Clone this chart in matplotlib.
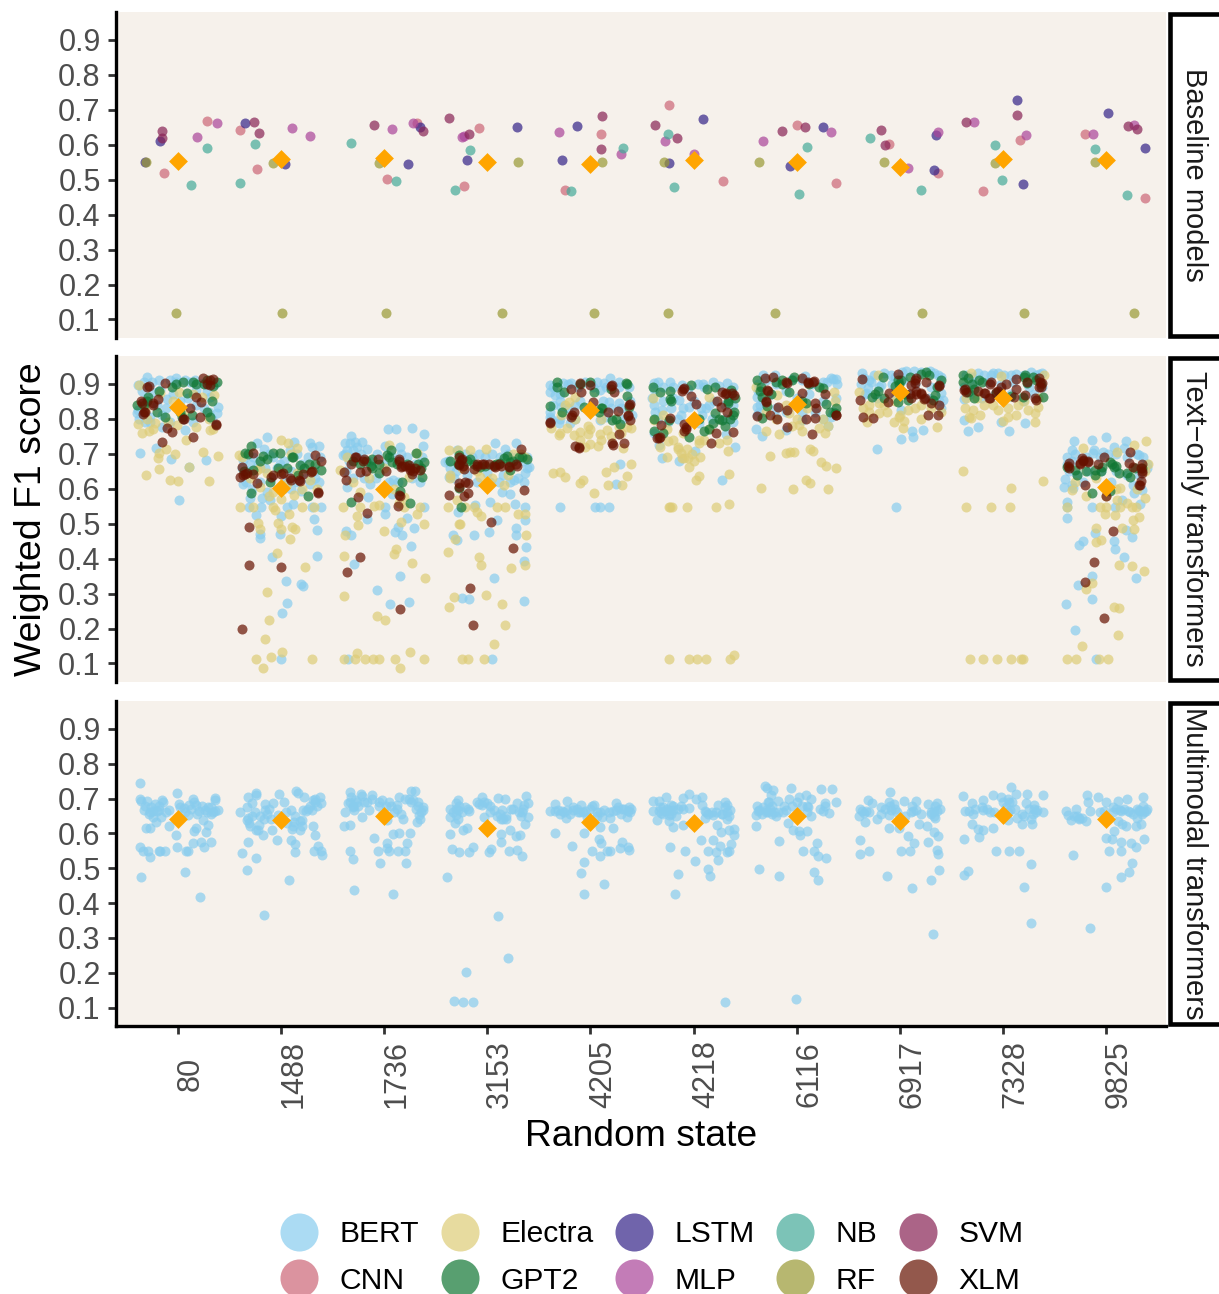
import matplotlib
matplotlib.use("Agg")
import matplotlib.pyplot as plt
from matplotlib.lines import Line2D
from matplotlib.patches import Rectangle
from matplotlib.transforms import ScaledTranslation

plt.rcParams['font.family'] = ['Liberation Sans', 'DejaVu Sans']

STATES = ["80", "1488", "1736", "3153", "4205", "4218", "6116", "6917", "7328", "9825"]
YTICKS = [0.1, 0.2, 0.3, 0.4, 0.5, 0.6, 0.7, 0.8, 0.9]
LEGEND_ORDER = ["BERT", "CNN", "Electra", "GPT2", "LSTM", "MLP", "NB", "RF", "SVM", "XLM"]
COLORS = {"BERT": "#88CCEE", "CNN": "#CC6677", "Electra": "#DDCC77", "GPT2": "#117733", "LSTM": "#332288",
          "MLP": "#AA4499", "NB": "#44AA99", "RF": "#999933", "SVM": "#882255", "XLM": "#661100"}
PANEL_TITLES = ["Baseline models", "Text\u2212only transformers", "Multimodal transformers"]

# every mark below is (jitter offset from the random state's slot, weighted F1), one inner list per random state
MEAN_BASE = [.553, .560, .561, .551, .544, .556, .550, .537, .559, .555]
MEAN_TEXT = [.835, .603, .600, .611, .825, .797, .843, .876, .860, .605]
MEAN_MULTI = [.640, .637, .651, .614, .634, .629, .649, .636, .654, .640]

BASE_CNN = [[(-.13,.519),(.28,.669)],[(-.40,.642),(-.23,.532)],[(.318,.663),(.03,.503)],[(-.085,.648),(-.223,.482)],
            [(.10,.631),(-.25,.470)],[(-.24,.715),(.285,.497)],[(0,.657),(.38,.491)],[(-.105,.603),(.37,.520)],
            [(.164,.614),(-.193,.468)],[(-.203,.631),(.377,.447)]]
BASE_LSTM = [[(-.32,.550),(-.17,.610)],[(-.354,.661),(.036,.546)],[(.348,.651),(.23,.545)],[(-.197,.555),(.29,.652)],
             [(-.13,.655),(-.272,.556)],[(.09,.675),(-.243,.547)],[(.256,.652),(-.07,.538)],[(.35,.627),(.334,.528)],
             [(.14,.729),(.19,.488)],[(.013,.690),(.374,.592)]]
BASE_MLP = [[(.19,.621),(.377,.663)],[(.108,.648),(.282,.625)],[(.08,.644),(.275,.662)],[(-.246,.623),(-.226,.626)],
            [(-.305,.637),(.292,.573)],[(-.28,.611),(0,.573)],[(-.33,.612),(.334,.636)],[(.367,.636),(.075,.533)],
            [(-.285,.666),(.223,.627)],[(-.128,.630),(.266,.657)]]
BASE_NB = [[(.13,.485),(.285,.591)],[(-.25,.602),(-.40,.491)],[(-.325,.605),(.115,.497)],[(-.17,.584),(-.31,.470)],
           [(-.187,.469),(.318,.591)],[(-.25,.631),(-.19,.479)],[(.10,.595),(.023,.459)],[(-.29,.619),(.20,.472)],
           [(-.075,.600),(-.013,.499)],[(-.11,.588),(.203,.456)]]
BASE_RF = [[(-.305,.550),(-.02,.118)],[(-.075,.549),(.007,.118)],[(-.046,.549),(.016,.118)],[(.30,.550),(.144,.118)],
           [(.11,.550),(.036,.118)],[(-.29,.550),(-.25,.118)],[(-.37,.550),(-.207,.118)],[(-.157,.550),(.21,.118)],
           [(-.08,.549),(.207,.118)],[(-.11,.550),(.27,.118)]]
BASE_SVM = [[(-.154,.640),(-.15,.619)],[(-.26,.664),(-.216,.635)],[(-.095,.656),(.38,.640)],[(-.37,.676),(-.174,.632)],
            [(.11,.683),(.10,.589)],[(-.377,.657),(-.164,.619)],[(-.144,.640),(.08,.650)],[(-.18,.643),(-.144,.599)],
            [(-.36,.666),(.14,.686)],[(.213,.653),(.30,.644)]]

TEXT_BERT = [
 [(-.385,.897),(-.304,.919),(-.255,.907),(-.184,.91),(-.078,.912),(-.023,.916),(.068,.912),(.165,.912),(.246,.902),(-.385,.825),(-.32,.792),(-.272,.806),(-.24,.878),(-.11,.856),(-.152,.778),(.068,.768),(.375,.816),(.39,.835),(.31,.864),(-.369,.703),(-.217,.718),(-.07,.685),(.272,.682),(.013,.567),(.107,.663),(-.337,.845),(-.40,.816),(-.175,.883),(.18,.883)],
 [(-.133,.749),(-.236,.73),(-.165,.715),(.123,.735),(.28,.732),(.372,.723),(.30,.72),(-.366,.682),(-.30,.672),(-.01,.672),(-.075,.691),(.087,.71),(.28,.615),(.37,.62),(-.366,.613),(.19,.594),(-.30,.575),(-.188,.575),(-.107,.567),(-.197,.548),(-.307,.548),(.12,.557),(.055,.548),(.385,.548),(.298,.548),(-.246,.524),(-.003,.521),(.32,.513),(.353,.483),(-.20,.471),(-.01,.471),(-.207,.46),(-.09,.405),(.346,.407),(.05,.337),(.194,.328),(.21,.321),(.06,.272),(.013,.245),(.003,.114)],
 [(-.324,.75),(-.217,.735),(.036,.77),(.117,.772),(.268,.775),(.388,.758),(.372,.722),(-.36,.71),(-.395,.696),(-.265,.72),(-.168,.715),(.01,.722),(.15,.72),(-.362,.605),(-.136,.615),(-.152,.577),(.09,.624),(.074,.586),(.01,.548),(.382,.548),(.01,.527),(-.168,.514),(.22,.517),(.285,.489),(.13,.491),(.107,.476),(.17,.468),(-.37,.479),(-.32,.467),(.257,.435),(-.288,.384),(.158,.351),(-.068,.31),(.055,.27),(.24,.277),(-.35,.114),(-.30,.69)],
 [(-.295,.711),(.07,.73),(.278,.73),(.175,.713),(.385,.691),(-.408,.677),(-.375,.634),(.40,.661),(.37,.644),(0,.644),(.11,.62),(.256,.624),(.142,.591),(.223,.584),(.03,.562),(.272,.556),(.369,.548),(-.116,.553),(-.285,.533),(.094,.512),(.362,.512),(.28,.489),(.013,.475),(.278,.468),(-.126,.468),(-.333,.467),(-.295,.452),(.372,.433),(.36,.393),(.068,.344),(-.246,.287),(-.18,.284),(.353,.28),(.042,.114)],
 [(-.388,.897),(-.388,.878),(-.34,.868),(-.269,.902),(-.185,.904),(.065,.907),(.13,.904),(.194,.916),(.275,.892),(.097,.883),(-.388,.821),(-.388,.806),(-.29,.835),(-.152,.84),(.178,.847),(.275,.845),(.4,.811),(-.307,.787),(-.194,.787),(.097,.797),(-.30,.547),(.042,.547),(.09,.547),(.184,.547),(.285,.672),(.249,.613)],
 [(-.385,.902),(-.343,.907),(-.233,.907),(-.11,.897),(.042,.90),(.094,.899),(.19,.907),(.324,.902),(-.142,.854),(-.045,.835),(.117,.83),(.149,.84),(-.375,.821),(-.304,.825),(-.22,.83),(-.126,.811),(.084,.811),(.052,.787),(.31,.758),(.40,.72),(-.336,.725),(-.304,.687),(-.142,.68),(.013,.708),(.278,.624),(-.40,.859),(.343,.859)],
 [(-.324,.926),(-.21,.926),(.08,.923),(.33,.916),(.379,.913),(.298,.907),(-.382,.864),(-.382,.835),(-.366,.821),(-.398,.77),(-.336,.751),(-.107,.768),(.25,.799),(.307,.78),(.33,.806),(-.204,.806),(.055,.797)],
 [(-.346,.916),(-.282,.907),(-.087,.926),(.058,.936),(.139,.936),(.291,.938),(.366,.926),(-.314,.888),(-.33,.873),(.398,.873),(.414,.854),(.01,.825),(.117,.765),(.226,.767),(.126,.748),(.013,.743),(-.223,.715),(-.036,.547),(.398,.83),(-.184,.897)],
 [(-.246,.93),(-.1,.93),(.126,.929),(.272,.933),(.353,.929),(-.375,.856),(-.38,.797),(-.343,.766),(-.24,.778),(-.02,.79),(.055,.766),(.217,.788),(.197,.85),(-.18,.926),(.013,.926)],
 [(-.31,.736),(-.142,.741),(0,.747),(.188,.736),(-.333,.711),(.071,.72),(.168,.718),(.314,.696),(.395,.672),(-.38,.672),(-.398,.629),(-.405,.605),(-.324,.603),(-.382,.562),(-.382,.547),(-.375,.515),(-.142,.547),(.09,.547),(.152,.569),(.33,.555),(.272,.589),(.346,.596),(-.104,.474),(.194,.481),(.25,.462),(-.227,.45),(-.26,.438),(.071,.451),(.081,.428),(.175,.404),(.285,.345),(-.14,.35),(-.272,.325),(-.136,.285),(-.385,.27),(-.298,.197),(-.097,.114),(-.123,.701),(-.026,.706)],
]
TEXT_BERT_DENSE = [
 [(-.35,.88),(-.30,.86),(-.2,.84),(-.12,.83),(-.05,.87),(.02,.85),(.1,.86),(.18,.84),(.25,.83),(.33,.80),(.28,.88),(-.38,.80),(-.27,.79),(-.15,.81),(-.08,.79),(.05,.80),(.15,.79),(.3,.82),(-.02,.905),(.12,.905),(.36,.90),(-.33,.905)],
 [(-.38,.66),(-.33,.65),(-.27,.69),(-.22,.67),(-.16,.66),(-.12,.70),(-.04,.66),(.03,.68),(.1,.65),(.15,.70),(.2,.67),(.26,.69),(.32,.65),(.38,.69),(-.34,.62),(-.2,.62),(-.1,.63),(.05,.62),(.15,.62),(.24,.63),(.33,.63),(-.28,.60),(-.14,.59),(.02,.60),(.1,.60)],
 [(-.38,.70),(-.34,.68),(-.3,.71),(-.26,.69),(-.22,.70),(-.14,.68),(-.07,.70),(0,.67),(.08,.69),(.16,.70),(.22,.69),(.3,.67),(.37,.69),(-.37,.65),(-.3,.63),(-.2,.63),(-.08,.63),(.05,.62),(.13,.62),(.27,.63),(.35,.62),(-.38,.73),(-.33,.73),(-.28,.735)],
 [(-.38,.68),(-.36,.66),(-.3,.65),(-.22,.70),(-.15,.69),(-.08,.70),(-.02,.69),(.05,.70),(.12,.69),(.2,.70),(.28,.69),(.35,.68),(.38,.66),(-.32,.63),(-.2,.64),(-.1,.62),(.03,.62),(.15,.64),(.22,.62),(.3,.63),(.36,.62)],
 [(-.36,.89),(-.3,.87),(-.22,.90),(-.12,.89),(-.05,.905),(.02,.89),(.15,.89),(.28,.905),(.37,.89),(-.36,.84),(-.3,.85),(-.22,.83),(-.1,.85),(0,.83),(.12,.85),(.2,.83),(.3,.83),(.38,.85),(-.38,.80),(-.3,.80),(-.15,.80),(.15,.805),(.33,.80)],
 [(-.38,.885),(-.3,.89),(-.2,.89),(-.05,.885),(.1,.89),(.25,.895),(.38,.89),(-.38,.84),(-.3,.85),(-.2,.86),(-.1,.83),(0,.85),(.07,.83),(.2,.85),(.3,.84),(.38,.84),(-.35,.80),(-.25,.79),(-.15,.80),(0,.80),(.18,.80),(.3,.80),(.38,.79),(-.38,.76)],
 [(-.38,.90),(-.3,.91),(-.2,.90),(-.05,.915),(.05,.91),(.15,.90),(.25,.905),(.35,.915),(.39,.90),(-.38,.88),(-.33,.85),(-.25,.87),(-.1,.88),(0,.86),(.12,.87),(.25,.85),(.38,.86),(-.36,.84),(-.2,.83),(-.1,.82),(.05,.82),(.18,.82),(.35,.82),(-.39,.81)],
 [(-.37,.93),(-.25,.925),(-.15,.93),(-.05,.92),(.02,.935),(.2,.935),(.33,.93),(.4,.92),(-.38,.90),(-.3,.91),(-.2,.89),(-.08,.90),(.03,.91),(.15,.90),(.3,.89),(.39,.90),(-.34,.87),(-.22,.86),(-.05,.86),(.1,.87),(.28,.86),(.38,.85)],
 [(-.36,.925),(-.3,.92),(-.12,.925),(-.05,.93),(.08,.925),(.2,.925),(.32,.925),(.38,.93),(-.38,.89),(-.28,.90),(-.15,.905),(-.02,.90),(.1,.905),(.25,.89),(.38,.89),(-.32,.87),(-.2,.86),(-.08,.87),(.08,.87),(.2,.86),(.3,.87)],
 [(-.38,.69),(-.33,.68),(-.3,.70),(-.2,.69),(-.12,.71),(-.06,.69),(.02,.70),(.1,.70),(.2,.69),(.3,.70),(.36,.69),(.4,.66),(-.36,.65),(-.28,.64),(-.18,.65),(-.05,.65),(.1,.65),(.2,.64),(.32,.64),(-.33,.61),(-.22,.62),(.05,.62),(.26,.61)],
]
TEXT_ELECTRA = [
 [(-.375,.897),(-.39,.785),(-.346,.761),(-.278,.766),(-.24,.77),(-.175,.873),(.01,.878),(.353,.869),(.23,.862),(.18,.778),(.31,.768),(.336,.771),(.074,.739),(-.12,.715),(-.184,.701),(-.188,.687),(-.03,.699),(.24,.705),(.385,.693),(-.18,.658),(.11,.663),(-.31,.638),(-.074,.626),(0,.621),(.304,.623),(-.223,.787),(-.013,.782),(-.32,.825)],
 [(-.405,.696),(0,.739),(.07,.73),(.152,.718),(-.236,.653),(-.204,.605),(-.074,.591),(.13,.581),(-.398,.548),(-.27,.548),(-.08,.548),(.207,.548),(.32,.548),(-.058,.538),(.08,.529),(-.22,.502),(-.026,.503),(-.204,.486),(0,.486),(.107,.492),(.136,.486),(.09,.457),(-.036,.415),(.236,.375),(-.133,.304),(-.12,.224),(-.155,.17),(-.243,.114),(-.097,.118),(.006,.132),(.304,.114),(-.17,.088),(.152,.644),(.28,.624),(-.14,.644),(.055,.615)],
 [(-.395,.548),(-.233,.548),(-.055,.553),(.188,.548),(.35,.548),(.317,.529),(-.265,.522),(-.256,.497),(-.375,.469),(-.006,.478),(.39,.50),(.165,.506),(.117,.428),(.10,.412),(.265,.389),(-.385,.407),(.398,.345),(-.39,.292),(-.065,.236),(.01,.225),(-.385,.114),(-.28,.114),(-.26,.129),(-.184,.114),(-.104,.114),(-.052,.114),(.104,.114),(.246,.134),(.385,.114),(.15,.087),(-.233,.591),(.24,.634),(.188,.577),(-.427,.653),(.317,.701),(.042,.725)],
 [(-.375,.711),(-.165,.711),(-.01,.714),(.369,.691),(-.36,.639),(-.379,.547),(-.295,.567),(-.214,.548),(-.133,.548),(-.1,.533),(-.06,.521),(.094,.547),(.175,.547),(.295,.527),(.369,.529),(-.278,.50),(-.262,.498),(.379,.468),(-.31,.455),(-.385,.418),(-.08,.406),(-.058,.381),(.233,.372),(.362,.383),(-.013,.296),(-.324,.291),(.139,.27),(-.372,.262),(.168,.21),(.065,.156),(-.243,.114),(-.19,.114),(-.036,.114),(.159,.61),(-.068,.634)],
 [(-.21,.847),(-.29,.811),(-.378,.773),(-.307,.754),(-.226,.773),(-.162,.754),(-.097,.763),(-.097,.739),(-.026,.78),(-.023,.757),(.09,.757),(.103,.739),(.16,.768),(.073,.723),(0,.728),(.32,.718),(.275,.778),(.393,.773),(-.367,.646),(-.291,.649),(-.25,.633),(-.097,.617),(-.071,.624),(.036,.589),(.146,.647),(.227,.663),(.39,.67),(.356,.637),(.168,.611),(.307,.612),(-.146,.864),(.356,.778)],
 [(-.395,.859),(.149,.864),(-.38,.797),(-.262,.77),(-.246,.737),(-.324,.72),(-.156,.713),(-.124,.701),(-.06,.715),(-.11,.687),(-.05,.687),(-.256,.69),(.058,.69),(-.04,.661),(.052,.739),(.1,.739),(.337,.709),(.327,.741),(.055,.637),(.02,.624),(.346,.642),(-.23,.547),(-.24,.547),(-.213,.547),(-.06,.547),(.22,.547),(.34,.555),(-.24,.114),(-.042,.114),(.032,.114),(.12,.114),(.356,.114),(.39,.125),(-.094,.687)],
 [(-.398,.892),(-.188,.868),(.362,.878),(.369,.85),(-.30,.766),(-.172,.758),(.023,.782),(.055,.766),(.217,.773),(.272,.761),(-.074,.816),(-.262,.693),(-.1,.703),(-.068,.705),(-.023,.705),(.133,.715),(.158,.708),(.233,.677),(.282,.666),(.385,.66),(-.343,.603),(-.04,.60),(.094,.624),(.13,.617),(.30,.60)],
 [(-.217,.926),(-.395,.878),(-.362,.83),(-.298,.84),(-.2,.845),(-.126,.821),(.074,.825),(-.32,.792),(-.2,.816),(-.055,.792),(-.006,.806),(.042,.795),(.032,.774),(.362,.778),(.204,.84),(.398,.821)],
 [(-.314,.93),(-.02,.923),(.40,.926),(-.369,.83),(-.295,.825),(-.33,.804),(-.314,.802),(-.22,.811),(-.18,.84),(-.052,.825),(-.003,.795),(.045,.806),(.126,.811),(.24,.825),(.314,.816),(.307,.791),(.337,.835),(.142,.84),(-.385,.65),(.08,.602),(.39,.621),(-.362,.547),(-.117,.547),(.068,.547),(-.324,.114),(-.194,.114),(-.055,.114),(.078,.114),(.175,.114),(.19,.114)],
 [(-.22,.718),(.104,.706),(.269,.724),(.385,.736),(.405,.67),(-.333,.596),(.136,.602),(.104,.567),(.372,.575),(-.058,.547),(0,.547),(.13,.547),(.25,.547),(.29,.547),(-.01,.529),(.09,.526),(.314,.519),(.26,.512),(-.097,.488),(.152,.488),(.265,.486),(-.097,.447),(-.052,.452),(.12,.381),(.252,.38),(.366,.365),(-.136,.33),(-.194,.313),(.078,.261),(.123,.259),(.11,.182),(-.23,.15),(-.379,.114),(-.29,.114),(-.065,.114),(.013,.114),(-.382,.547)],
]
TEXT_ELECTRA_DENSE = [
 [(-.3,.80),(-.1,.79),(.05,.82),(.15,.87),(.3,.80),(-.05,.85)],
 [(-.38,.69),(-.3,.63),(-.2,.66),(-.02,.65),(.1,.70),(.3,.65),(.35,.60),(-.12,.58),(0,.57),(.2,.60)],
 [(-.36,.69),(-.3,.62),(-.15,.63),(0,.66),(.1,.60),(.3,.66),(-.1,.55),(.14,.56)],
 [(-.36,.63),(-.25,.66),(-.1,.65),(.05,.63),(.2,.64),(.33,.70),(-.28,.71),(.25,.70)],
 [(-.3,.76),(-.15,.80),(0,.77),(.1,.80),(.3,.76),(-.25,.84),(.2,.75),(-.05,.72)],
 [(-.2,.74),(-.1,.76),(.05,.73),(.25,.73),(-.3,.81),(.15,.77),(-.15,.72),(-.02,.70),(0,.68)],
 [(-.2,.80),(-.1,.84),(.1,.83),(.25,.80),(-.3,.82),(.3,.78),(0,.80),(-.05,.78)],
 [(-.3,.82),(-.15,.84),(0,.81),(.2,.80),(.3,.83),(.15,.83),(-.05,.85)],
 [(-.25,.86),(-.1,.84),(.05,.83),(.2,.85),(.34,.86),(-.36,.86)],
 [(-.3,.62),(-.1,.63),(.1,.60),(.3,.60),(.38,.65),(-.2,.58),(0,.58),(.2,.56)],
]
TEXT_GPT2 = [
 [(-.06,.892),(.045,.906),(.175,.90),(.38,.906),(.34,.894),(-.288,.862),(-.395,.84),(-.207,.821),(-.126,.804),(.09,.875),(.333,.85),(.278,.821),(.31,.806),(.036,.806),(.133,.811)],
 [(-.29,.722),(-.35,.702),(-.178,.693),(-.14,.685),(-.08,.703),(-.006,.702),(.12,.691),(.185,.668),(.27,.67),(.385,.655),(.055,.659),(-.275,.655),(-.107,.62),(-.288,.589),(.265,.578)],
 [(-.12,.684),(.026,.696),(.068,.711),(.31,.701),(.382,.677),(.366,.634),(.17,.62),(.155,.594),(.246,.56),(-.324,.562),(-.13,.665),(.074,.677),(-.055,.644),(-.233,.672),(.33,.672)],
 [(-.36,.679),(-.272,.698),(-.17,.685),(-.068,.663),(.159,.689),(.223,.677),(.304,.691),(.385,.684),(.223,.653),(-.272,.603),(-.256,.547),(.06,.668),(-.133,.672)],
 [(-.324,.892),(-.256,.878),(.032,.878),(.34,.904),(.356,.866),(.372,.835),(-.388,.838),(-.065,.835),(.113,.83),(.08,.821),(.21,.797),(.29,.784)],
 [(-.39,.892),(-.33,.878),(-.224,.881),(-.233,.858),(-.03,.896),(.13,.885),(.207,.892),(.363,.883),(.40,.859),(.337,.846),(.207,.816),(.35,.801),(.272,.797),(.188,.787),(.304,.78),(.10,.766),(-.04,.749),(-.385,.765),(-.24,.797),(.39,.821)],
 [(-.388,.91),(-.146,.912),(-.026,.919),(-.35,.89),(-.34,.864),(-.29,.837),(-.074,.876),(-.14,.90),(.25,.888),(.087,.845),(.285,.843),(.379,.832),(.369,.818),(-.34,.802)],
 [(-.162,.921),(-.023,.91),(-.006,.90),(.204,.929),(.252,.933),(.398,.91),(-.217,.881),(-.275,.864),(.074,.854),(.34,.868),(-.023,.849),(.01,.912)],
 [(-.39,.926),(-.336,.916),(-.23,.91),(-.39,.907),(-.278,.859),(-.068,.873),(.217,.926),(.288,.921),(.233,.904),(.39,.862),(.19,.864),(-.343,.878)],
 [(-.382,.663),(-.285,.639),(-.107,.653),(-.107,.639),(.039,.677),(.071,.663),(.12,.644),(.233,.634),(-.133,.589),(.039,.594),(-.042,.663)],
]
TEXT_GPT2_DENSE = [
 [(-.33,.84),(-.18,.88),(-.02,.90),(.15,.905),(.25,.90),(.28,.91),(-.3,.85),(.02,.82)],
 [(-.32,.70),(-.2,.68),(-.03,.66),(.11,.69),(.22,.66),(.33,.67),(-.36,.65),(.16,.64)],
 [(-.3,.68),(-.18,.68),(-.05,.67),(.05,.69),(.12,.67),(.22,.67),(.36,.66),(-.12,.66)],
 [(-.28,.67),(-.2,.68),(-.02,.665),(.08,.67),(.19,.695),(.25,.68),(.34,.69),(.12,.675)],
 [(-.32,.905),(-.1,.90),(0,.905),(.2,.885),(-.28,.82),(.25,.80),(.35,.90),(.1,.83)],
 [(-.38,.80),(-.22,.85),(.05,.80),(.25,.80),(.33,.85),(.38,.81),(-.3,.76),(.15,.77)],
 [(-.2,.905),(-.05,.91),(.12,.90),(.22,.89),(-.25,.87),(.05,.85),(.32,.82),(-.36,.88)],
 [(-.05,.895),(.1,.92),(.28,.925),(.36,.89),(-.15,.86),(-.24,.87),(.05,.87),(.32,.855)],
 [(-.3,.90),(-.2,.905),(-.28,.885),(.2,.92),(.32,.91),(.37,.90),(-.02,.87),(.08,.865)],
 [(-.3,.655),(-.2,.65),(-.05,.65),(.06,.67),(.1,.665),(.2,.645),(.28,.66),(.35,.66)],
]
TEXT_XLM = [
 [(-.278,.894),(.24,.916),(.31,.91),(.31,.897),(-.126,.902),(-.36,.85),(-.246,.846),(-.19,.857),(-.33,.821),(-.337,.814),(-.104,.775),(-.058,.763),(-.152,.735),(.149,.747),(.369,.782),(.052,.799),(.117,.83),(.214,.806),(.172,.862),(.22,.847)],
 [(-.275,.703),(-.375,.661),(-.40,.634),(-.35,.642),(-.275,.641),(-.23,.617),(-.097,.634),(0,.641),(.087,.630),(.185,.621),(.21,.642),(.288,.648),(.327,.696),(.388,.68),(.356,.589),(-.307,.49),(-.314,.381),(0,.377),(-.379,.20)],
 [(-.278,.69),(-.2,.686),(-.06,.684),(.14,.684),(.162,.663),(.24,.668),(.25,.653),(.27,.642),(.35,.653),(-.385,.648),(-.366,.624),(-.324,.67),(-.233,.648),(-.175,.651),(.016,.651),(-.256,.577),(.146,.583),(.133,.552),(-.168,.531),(-.23,.404),(-.362,.363),(.152,.257)],
 [(-.27,.691),(-.256,.682),(-.278,.668),(-.23,.658),(-.133,.658),(-.1,.672),(-.052,.672),(.013,.67),(.078,.663),(.11,.67),(.207,.663),(.288,.665),(.327,.713),(-.278,.617),(-.19,.617),(-.37,.581),(-.19,.588),(-.23,.579),(.36,.597),(.032,.506),(.25,.431),(-.165,.315),(-.14,.211)],
 [(-.097,.902),(0,.897),(-.188,.885),(-.087,.878),(.204,.896),(.226,.876),(.023,.849),(-.162,.821),(-.188,.806),(.17,.819),(.269,.823),(.379,.843),(.366,.808),(.388,.797),(-.388,.787),(.275,.757),(-.146,.722),(-.113,.717),(.217,.726),(.324,.732)],
 [(-.117,.88),(-.094,.888),(-.03,.866),(.026,.843),(.23,.852),(.272,.876),(.31,.873),(.39,.868),(.269,.835),(.324,.821),(.385,.762),(.217,.76),(-.233,.803),(-.317,.782),(-.07,.778),(-.094,.765),(-.33,.749),(-.353,.744),(.168,.73)],
 [(-.307,.916),(-.227,.919),(-.097,.904),(.055,.916),(.113,.902),(.168,.909),(-.285,.883),(-.30,.847),(.275,.87),(.052,.873),(-.18,.835),(-.097,.825),(.178,.845),(.191,.83),(.379,.811),(-.382,.808),(-.262,.811),(-.194,.799),(.087,.80),(.178,.802),(-.094,.778),(.146,.757)],
 [(-.366,.913),(-.016,.928),(.155,.916),(.149,.904),(.256,.907),(.382,.897),(.107,.897),(-.11,.875),(-.113,.849),(-.382,.855),(.155,.87),(.204,.875),(.23,.856),(.107,.859),(.30,.845),(.382,.84),(-.356,.806),(-.256,.802),(.269,.81),(.372,.81)],
 [(-.375,.883),(-.36,.878),(-.123,.90),(.03,.90),(.13,.913),(.23,.907),(.346,.916),(.375,.904),(.353,.89),(-.24,.881),(-.18,.873),(-.14,.859),(-.068,.878),(.11,.862),(.13,.885),(.217,.867),(.314,.859),(-.02,.892)],
 [(.23,.704),(-.36,.674),(-.36,.66),(-.252,.672),(-.23,.687),(-.178,.677),(-.084,.672),(-.02,.69),(.217,.674),(.26,.661),(.346,.671),(.346,.65),(.337,.623),(.317,.611),(-.207,.612),(0,.579),(.065,.48),(-.117,.39),(-.204,.333),(-.02,.229),(-.22,.682)],
]
TEXT_XLM_DENSE = [
 [(-.3,.89),(-.32,.82),(.28,.90),(-.24,.84),(.34,.915),(-.35,.845),(.37,.785),(.06,.80)],
 [(-.37,.64),(-.33,.645),(-.08,.64),(.02,.645),(.1,.625),(.17,.625),(.3,.65),(.355,.59)],
 [(.14,.68),(.25,.66),(.28,.65),(.3,.66),(-.27,.69),(-.21,.68),(.17,.665),(.2,.665),(.15,.58)],
 [(-.27,.67),(-.25,.685),(-.24,.665),(-.1,.665),(-.03,.67),(.06,.665),(.13,.665),(.21,.665),(.28,.67),(-.27,.605),(-.22,.62)],
 [(-.18,.81),(-.11,.72),(.21,.73),(.2,.895),(.36,.81),(-.39,.79),(.37,.84)],
 [(-.1,.885),(.3,.87),(.375,.875),(-.09,.785),(-.34,.745),(-.07,.77)],
 [(.11,.905),(.16,.905),(-.28,.88),(-.3,.85),(.38,.81),(-.1,.905)],
 [(.15,.91),(.16,.88),(.2,.87),(.24,.86),(.38,.895),(.1,.87)],
 [(-.37,.885),(-.12,.905),(.36,.905),(.37,.89),(-.17,.875),(-.13,.86),(.32,.855),(-.05,.88)],
 [(-.25,.675),(-.22,.68),(-.18,.68),(.34,.66),(.345,.645),(-.37,.665),(.33,.61)],
]

MULTI_BERT = [
 [(-.37,.745),(-.37,.700),(-.36,.693),(-.30,.693),(-.15,.697),(-.144,.690),(-.013,.717),(.148,.700),(.36,.702),(.36,.695),(-.22,.684),(-.33,.667),(-.266,.662),(-.24,.647),(-.216,.633),(-.167,.646),(-.085,.667),(-.18,.667),(.01,.684),(.06,.674),(.11,.681),(.177,.681),(.184,.657),(.243,.638),(.29,.676),(.26,.667),(.34,.662),(.39,.667),(.32,.657),(.095,.652),(.29,.625),(-.305,.615),(-.266,.614),(-.089,.621),(.275,.605),(.154,.608),(.177,.615),(-.016,.595),(-.37,.560),(-.338,.548),(-.29,.549),(-.27,.532),(-.184,.548),(-.174,.549),(-.128,.548),(-.007,.56),(.075,.548),(.10,.548),(.148,.572),(.223,.576),(.256,.562),(.32,.575),(-.36,.475),(.066,.49),(.21,.416)],
 [(-.246,.716),(-.24,.71),(-.318,.705),(-.016,.713),(.144,.722),(.16,.716),(.223,.705),(.374,.705),(.31,.697),(.33,.69),(.39,.686),(-.285,.686),(-.33,.676),(-.393,.662),(-.256,.66),(-.154,.684),(-.08,.686),(.03,.69),(-.154,.667),(-.32,.643),(-.33,.638),(-.31,.63),(-.216,.624),(-.167,.64),(-.243,.61),(-.085,.611),(-.174,.595),(-.026,.652),(.10,.667),(.216,.667),(.30,.667),(.26,.671),(.2,.638),(.128,.633),(.187,.609),(.11,.612),(.31,.622),(.325,.595),(-.043,.582),(.095,.582),(-.325,.574),(-.38,.545),(-.246,.529),(.138,.569),(.14,.547),(.318,.548),(.354,.563),(.39,.549),(.397,.538),(-.33,.494),(.082,.465),(-.167,.367)],
 [(-.334,.719),(-.223,.714),(-.118,.711),(-.216,.707),(.26,.722),(.30,.722),(.144,.705),(.243,.70),(-.02,.697),(-.33,.69),(-.348,.686),(-.28,.695),(-.167,.69),(-.052,.69),(.046,.69),(.128,.681),(.26,.69),(.325,.69),(.374,.676),(.374,.667),(.34,.652),(-.38,.662),(-.29,.667),(-.144,.667),(-.216,.646),(-.02,.652),(.16,.657),(.187,.64),(.315,.634),(.03,.638),(-.393,.621),(-.33,.624),(.085,.598),(.148,.60),(.25,.60),(-.095,.587),(.023,.572),(.22,.573),(-.33,.548),(-.30,.527),(-.062,.548),(.03,.557),(.05,.548),(.138,.548),(.2,.548),(-.04,.514),(.216,.516),(-.295,.438),(.089,.426)],
 [(-.285,.697),(-.30,.686),(-.052,.705),(-.10,.69),(.105,.702),(.17,.699),(.377,.708),(.39,.686),(.29,.686),(.357,.681),(-.364,.67),(-.28,.667),(-.216,.676),(-.184,.671),(-.052,.681),(0,.686),(.062,.667),(.144,.667),(.226,.671),(-.364,.647),(-.30,.652),(-.315,.63),(-.036,.647),(.128,.64),(.184,.642),(.34,.662),(.39,.647),(.367,.628),(-.24,.611),(-.193,.614),(-.364,.598),(.128,.598),(.216,.611),(.275,.593),(.315,.594),(.131,.576),(-.347,.555),(-.272,.547),(-.177,.547),(-.134,.56),(.013,.547),(.036,.554),(.21,.548),(.29,.553),(.334,.535),(-.387,.474),(.10,.363),(.203,.241),(-.207,.202),(-.32,.12),(-.233,.115),(-.138,.115)],
 [(-.344,.683),(-.226,.694),(-.397,.664),(-.315,.667),(-.233,.643),(-.226,.667),(-.167,.676),(-.095,.681),(-.118,.662),(.013,.679),(.036,.681),(-.036,.647),(.128,.667),(.11,.647),(.193,.643),(.252,.686),(.25,.667),(.31,.671),(.374,.676),(.357,.647),(.39,.669),(-.167,.667),(-.069,.662),(.062,.662),(-.344,.60),(-.059,.602),(.095,.619),(.22,.615),(.079,.584),(.10,.573),(-.177,.563),(.013,.548),(.092,.534),(.16,.549),(.193,.548),(.282,.559),(.31,.574),(.367,.561),(.377,.551),(-.066,.518),(-.092,.486),(.13,.454),(-.059,.426)],
 [(-.39,.693),(-.334,.693),(-.266,.703),(-.10,.702),(-.04,.713),(.082,.705),(.026,.70),(-.39,.664),(-.30,.676),(-.318,.659),(-.22,.681),(-.203,.667),(-.105,.671),(-.04,.674),(-.357,.638),(-.236,.652),(-.236,.636),(-.17,.649),(.085,.681),(.125,.662),(.19,.652),(.30,.69),(.328,.681),(.24,.681),(.354,.667),(.272,.657),(.32,.64),(.108,.643),(.23,.625),(-.10,.625),(-.197,.617),(.262,.603),(.344,.611),(.387,.612),(.393,.595),(.075,.58),(.19,.582),(.36,.569),(.256,.564),(-.226,.561),(-.082,.548),(.138,.548),(.22,.547),(.328,.547),(.344,.55),(.233,.523),(.013,.521),(.141,.497),(.157,.479),(-.154,.482),(-.177,.427),(.30,.115)],
 [(-.31,.735),(-.285,.729),(-.226,.724),(-.056,.73),(.233,.727),(.338,.727),(-.252,.71),(-.27,.69),(-.384,.678),(-.393,.652),(-.367,.667),(-.30,.667),(-.236,.657),(-.203,.649),(-.177,.693),(-.072,.70),(.026,.703),(.092,.71),(.14,.70),(-.105,.668),(.108,.676),(.134,.65),(.223,.671),(.272,.688),(.377,.69),(.315,.659),(-.393,.622),(-.089,.631),(-.04,.609),(.033,.595),(.098,.608),(.026,.607),(-.17,.579),(.197,.571),(.06,.548),(.165,.548),(.21,.535),(.28,.53),(-.367,.499),(-.17,.479),(.172,.488),(.206,.465),(-.01,.125)],
 [(-.10,.719),(-.39,.671),(-.305,.697),(-.275,.686),(-.40,.649),(-.35,.659),(-.334,.633),(-.22,.64),(-.18,.676),(-.11,.689),(-.089,.667),(-.105,.652),(.036,.692),(.157,.693),(.108,.662),(.157,.668),(.272,.683),(.364,.688),(.387,.669),(.305,.657),(.338,.643),(.19,.628),(.262,.622),(-.105,.615),(-.007,.614),(.079,.593),(.33,.603),(.374,.592),(.14,.573),(.275,.575),(-.384,.582),(-.384,.541),(-.295,.548),(.01,.548),(.095,.548),(.364,.552),(.374,.541),(.377,.496),(.30,.465),(-.128,.479),(.118,.442),(.318,.31)],
 [(-.387,.708),(-.098,.71),(.079,.732),(.121,.712),(.236,.712),(.384,.709),(-.305,.686),(-.19,.697),(-.02,.703),(.056,.69),(.22,.686),(.30,.681),(-.37,.664),(-.29,.657),(-.19,.667),(-.092,.662),(.072,.667),(.187,.657),(.384,.662),(.334,.667),(-.30,.626),(-.098,.614),(-.24,.612),(-.197,.611),(-.23,.589),(.187,.628),(.285,.628),(.046,.638),(-.377,.585),(-.07,.548),(.059,.548),(.154,.548),(.272,.511),(-.377,.481),(-.338,.492),(.203,.446),(.269,.344)],
 [(-.19,.711),(-.075,.705),(.354,.703),(.203,.698),(-.177,.69),(-.29,.671),(-.39,.665),(-.374,.652),(-.26,.643),(-.34,.638),(-.193,.636),(-.16,.665),(.003,.689),(.118,.693),(.062,.676),(.134,.667),(-.062,.66),(.233,.662),(.315,.667),(.397,.671),(.298,.643),(.338,.628),(.289,.621),(.15,.628),(.19,.622),(.079,.606),(.003,.588),(.052,.584),(.148,.576),(.24,.573),(.367,.585),(.292,.56),(.03,.548),(.148,.548),(-.325,.538),(.252,.515),(.226,.49),(.148,.475),(.003,.446),(-.154,.329)],
]
MULTI_BERT_DENSE = [
 [(-.32,.68),(-.26,.675),(-.2,.665),(-.28,.655),(-.24,.665),(-.12,.66),(.02,.675),(.07,.66),(.13,.67),(.2,.665),(.23,.68),(.28,.66),(.32,.675),(.36,.665),(-.18,.68),(.16,.69)],
 [(-.28,.65),(-.2,.65),(-.14,.655),(-.1,.64),(0,.64),(.05,.66),(.14,.65),(.18,.635),(.24,.665),(.28,.68),(.33,.70),(.35,.68),(-.12,.67),(.06,.63),(.12,.62),(.2,.62),(-.3,.62),(-.22,.61)],
 [(-.32,.705),(-.3,.68),(-.26,.69),(-.2,.69),(-.12,.70),(-.05,.68),(.02,.68),(.07,.68),(.12,.67),(.2,.70),(.28,.695),(.31,.67),(.33,.68),(.36,.66),(.35,.64),(-.3,.675),(-.25,.68),(.1,.66)],
 [(-.3,.67),(-.27,.68),(-.25,.66),(-.33,.66),(-.18,.665),(-.08,.685),(-.03,.69),(.03,.68),(.09,.65),(.12,.655),(.18,.65),(.25,.67),(.33,.65),(.31,.66),(.35,.67),(-.28,.64),(.03,.66),(.15,.64)],
 [(-.34,.665),(-.3,.655),(-.28,.665),(-.26,.66),(-.2,.655),(-.13,.67),(-.1,.66),(-.05,.665),(0,.67),(.06,.65),(.09,.66),(.18,.66),(.22,.665),(.27,.675),(.33,.67),(.36,.665),(.3,.655),(.38,.66)],
 [(-.34,.665),(-.33,.675),(-.28,.665),(-.26,.67),(-.24,.665),(-.2,.68),(-.15,.67),(-.12,.68),(.11,.665),(.14,.655),(.18,.66),(.22,.66),(.28,.655),(.32,.66),(.34,.65),(.3,.675),(-.3,.655),(-.22,.655)],
 [(-.38,.665),(-.34,.655),(-.33,.675),(-.28,.66),(-.26,.67),(-.28,.69),(-.24,.68),(-.18,.66),(-.13,.66),(-.12,.68),(-.05,.68),(0,.69),(.05,.68),(.1,.68),(.1,.66),(.25,.665),(.27,.68),(-.3,.66),(-.22,.66)],
 [(-.37,.665),(-.33,.665),(-.3,.66),(-.14,.67),(-.1,.68),(-.05,.67),(-.03,.66),(.05,.65),(.13,.665),(.12,.68),(.2,.655),(.3,.66),(.33,.665),(.36,.665),(.33,.65),(-.06,.685),(.34,.68),(-.18,.655)],
 [(-.33,.665),(-.27,.67),(-.2,.675),(-.16,.67),(-.13,.66),(0,.69),(.03,.675),(.05,.66),(.09,.69),(.12,.67),(.25,.67),(.29,.655),(.3,.67),(.32,.66),(.2,.65),(.14,.645),(.27,.64),(.05,.70)],
 [(-.31,.65),(-.28,.65),(-.26,.64),(-.23,.645),(.1,.67),(.07,.66),(.17,.67),(.21,.665),(.26,.655),(.3,.67),(.33,.665),(.35,.655),(.37,.66),(.36,.68),(.39,.665),(-.02,.665),(.14,.665),(.11,.635)],
]


def merged(readable, dense):
    return [a + b for a, b in zip(readable, dense)]


PANELS = [
    ([("CNN", BASE_CNN), ("LSTM", BASE_LSTM), ("MLP", BASE_MLP), ("NB", BASE_NB), ("RF", BASE_RF), ("SVM", BASE_SVM)], MEAN_BASE),
    ([("BERT", merged(TEXT_BERT, TEXT_BERT_DENSE)), ("Electra", merged(TEXT_ELECTRA, TEXT_ELECTRA_DENSE)),
      ("GPT2", merged(TEXT_GPT2, TEXT_GPT2_DENSE)), ("XLM", merged(TEXT_XLM, TEXT_XLM_DENSE))], MEAN_TEXT),
    ([("BERT", merged(MULTI_BERT, MULTI_BERT_DENSE))], MEAN_MULTI),
]

W, H = 1219, 1294
fig = plt.figure(figsize=(W / 100, H / 100), dpi=100, facecolor="white")
BOXES = [(12, 338), (356, 682), (701, 1026)]
BG = "#F6F1EB"
GREY = "#4D4D4D"
YLIM = (0.047, 0.98)
positions = list(range(1, len(STATES) + 1))

for idx, ((series, means), (top, bottom), title) in enumerate(zip(PANELS, BOXES, PANEL_TITLES)):
    ax = fig.add_axes([116 / W, 1 - bottom / H, 1050 / W, (bottom - top) / H], facecolor=BG)
    for model, per_state in series:
        xs = [p + off for p, pts in zip(positions, per_state) for off, _ in pts]
        ys = [v for pts in per_state for _, v in pts]
        ax.scatter(xs, ys, s=52, c=COLORS[model], alpha=0.7, linewidths=0, zorder=2)
    ax.scatter(positions, means, marker="D", s=92, c="orange", linewidths=0, zorder=3)
    ax.set_xlim(0.4, 10.58)
    ax.set_ylim(*YLIM)
    ax.set_yticks(YTICKS)
    ax.set_yticklabels([f"{t:.1f}" for t in YTICKS])
    ax.tick_params(axis="y", labelsize=22, labelcolor=GREY, color="#333333", length=5.5, width=2, pad=5.5)
    for name in ("top", "right", "bottom"):
        ax.spines[name].set_visible(False)
    ax.spines["left"].set_linewidth(2.4)
    ax.spines["left"].set_color("black")
    if idx == 2:
        ax.spines["bottom"].set_visible(True)
        ax.spines["bottom"].set_linewidth(2.4)
        ax.spines["bottom"].set_color("black")
        ax.set_xticks(positions)
        ax.set_xticklabels(STATES)
        ax.tick_params(axis="x", labelsize=22, labelcolor=GREY, color="#333333", length=5.5, width=2,
                       pad=29, labelrotation=90)
        offset = ScaledTranslation(12.5 / 100, 0, fig.dpi_scale_trans)
        for lab in ax.get_xticklabels():
            lab.set_va("center")
            lab.set_ha("center")
            lab.set_transform(lab.get_transform() + offset)
    else:
        ax.set_xticks([])
    fig.add_artist(Rectangle((1169.5 / W, 1 - (bottom - 2) / H), 100 / W, (bottom - top - 4) / H,
                             transform=fig.transFigure, facecolor="white", edgecolor="black", linewidth=3.3,
                             clip_on=True))
    fig.text(1194 / W, 1 - (top + bottom) / 2 / H, title, rotation=-90, ha="center", va="center",
             fontsize=21, color="#1A1A1A")

fig.text(32 / W, 1 - 519 / H, "Weighted F1 score", rotation=90, ha="center", va="center", fontsize=26.9, color="black")
fig.text(641 / W, 1 - 1137 / H, "Random state", ha="center", va="center", fontsize=26.8, color="black")

handles = [Line2D([], [], linestyle="none", marker="o", markersize=27.4, markerfacecolor=COLORS[m],
                  markeredgewidth=0, alpha=0.7, label=m) for m in LEGEND_ORDER]
fig.legend(handles=handles, ncol=5, loc="upper left", bbox_to_anchor=(268 / W, 1 - 1208 / H),
           frameon=False, fontsize=21.6, handlelength=1.27, handletextpad=0.72, columnspacing=0.71,
           labelspacing=0.63, borderaxespad=0, borderpad=0.4)

fig.savefig("out.png", dpi=100)
